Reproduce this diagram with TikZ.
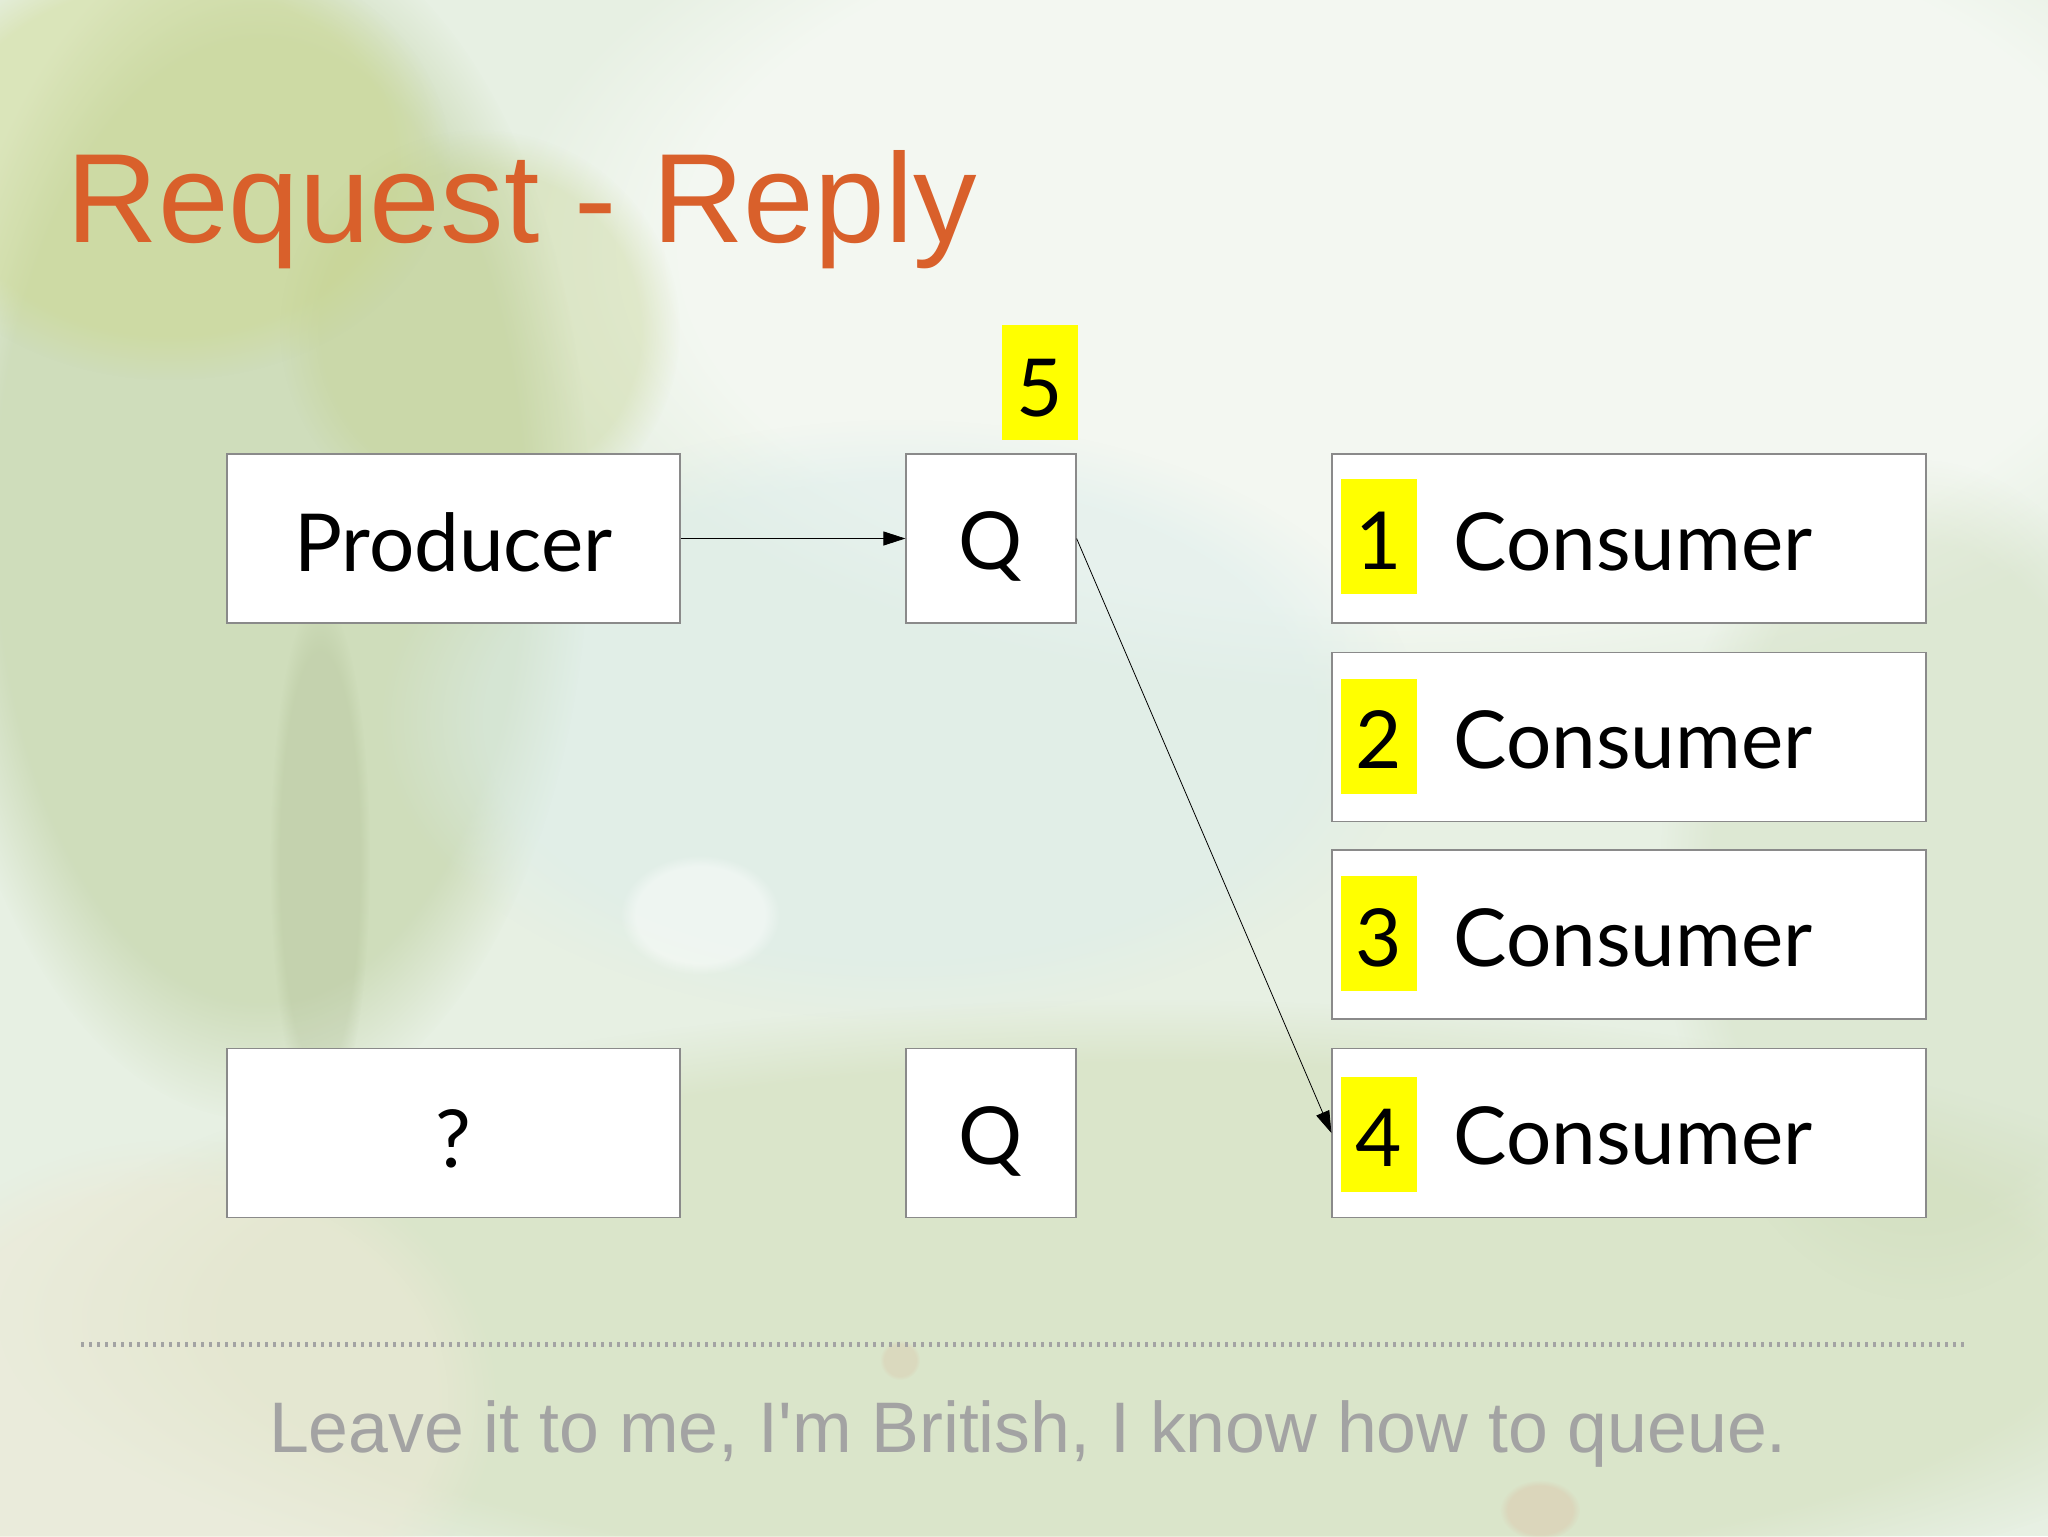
\documentclass[tikz,border=0pt]{standalone}
\usepackage{fontspec}
\setmainfont{Liberation Sans}
\newfontfamily\gillfont{Lato}
\usetikzlibrary{arrows.meta,fadings}
\definecolor{titleorange}{HTML}{D9602B}
\definecolor{footgray}{HTML}{A3A3A3}
\definecolor{boxgray}{HTML}{8A8A8A}
\definecolor{hiyellow}{HTML}{FFFF00}
\definecolor{bgbase}{HTML}{E7F0E3}
\definecolor{bgA}{HTML}{B2C68C}
\definecolor{bgB}{HTML}{CCD88A}
\definecolor{bgC}{HTML}{C2D08A}
\definecolor{bgD}{HTML}{9AAA7A}
\definecolor{bgE}{HTML}{CBD8AC}
\definecolor{bgF}{HTML}{ECE9D6}
\definecolor{bgG}{HTML}{CCDAB8}
\definecolor{bgH}{HTML}{DCEDEB}
\definecolor{bgR}{HTML}{E09A80}
\tikzset{
  blob/.style={path fading=circle with fuzzy edge 20 percent},
  whitebox/.style={draw=boxgray, line width=0.6pt, fill=white, inner sep=0pt, minimum height=84.5pt},
  boxtext/.style={font=\gillfont\fontsize{40}{48}\selectfont, text=black},
  numbox/.style={fill=hiyellow, inner sep=0pt, minimum width=38pt, minimum height=57.5pt},
  conn/.style={draw=black, line width=0.4pt, -{Triangle[length=11pt,width=7pt]}}
}
\begin{document}
\begin{tikzpicture}[x=0.5pt,y=-0.5pt]
\useasboundingbox (0,0) rectangle (2048,1536);
% background
\fill[bgbase] (0,0) rectangle (2048,1536);
\fill[white, opacity=0.5, blob] (1400,250) ellipse (900 and 450);
\fill[bgA, opacity=0.45, blob] (260,520) ellipse (330 and 600);
\fill[bgB, opacity=0.45, blob] (170,160) ellipse (280 and 220);
\fill[bgC, opacity=0.35, blob] (480,330) ellipse (200 and 200);
\fill[bgD, opacity=0.2, blob] (320,860) ellipse (50 and 260);
\fill[bgE, opacity=0.45, blob] (1150,1320) ellipse (1150 and 320);
\fill[bgF, opacity=0.6, blob] (180,1400) ellipse (320 and 260);
\fill[bgG, opacity=0.35, blob] (1920,880) ellipse (260 and 420);
\fill[bgH, opacity=0.5, blob] (900,720) ellipse (520 and 300);
\fill[white, opacity=0.45, blob] (700,915) ellipse (80 and 60);
\fill[bgR, opacity=0.2, blob] (1540,1510) ellipse (40 and 30);
\fill[bgR, opacity=0.15, blob] (900,1360) ellipse (20 and 20);
% title
\node[anchor=base west, inner sep=0pt, text=titleorange, font=\fontsize{63.5}{70}\selectfont] (title) at (66,242) {Request - Reply};
% boxes
\node[whitebox, minimum width=226.5pt] (prod) at (453.5,538.5) {};
\node[boxtext] (prodt) at ([yshift=-2pt]prod.center) {Producer};
\node[whitebox, minimum width=85pt] (q1) at (991,538.5) {};
\node[boxtext] (q1t) at ([yshift=-4pt]q1.center) {Q};
\node[numbox] (five) at (1039.5,382.5) {};
\node[boxtext] (fivet) at ([yshift=-3pt]five.center) {5};
\node[whitebox, minimum width=226.5pt] (ask) at (453.5,1133) {};
\node[boxtext] (askt) at ([yshift=-3pt]ask.center) {?};
\node[whitebox, minimum width=85pt] (q2) at (991,1133) {};
\node[boxtext] (q2t) at ([yshift=-4pt]q2.center) {Q};
\foreach \i/\y/\ny in {1/538.5/536.5, 2/737/736, 3/934.5/933.5, 4/1133/1134}{
  \node[whitebox, minimum width=297pt] (c\i) at (1629,\y) {};
  \node[numbox] (n\i) at (1379,\ny) {};
  \node[boxtext] (nt\i) at ([yshift=-2pt]n\i.center) {\i};
  \node[boxtext, anchor=west, inner sep=0pt] (ct\i) at (1453,\y+3) {Consumer};
}
% connectors
\draw[conn] (prod.east) -- (q1.west);
\draw[conn] (q1.east) -- (c4.west);
% footer
\coordinate (dl) at (81,1344);
\coordinate (dr) at (1966,1344);
\draw[footgray, line width=2.5pt, dash pattern=on 1.3pt off 2.7pt] (dl) -- (dr);
\node[anchor=base, inner sep=0pt, text=footgray, font=\fontsize{35.8}{40}\selectfont] (foot) at (1028,1452) {Leave it to me, I\textquotesingle m British, I know how to queue.};
\end{tikzpicture}
\end{document}
